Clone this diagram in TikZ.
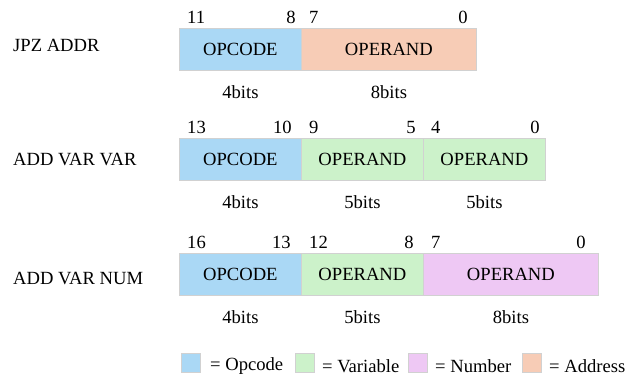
\documentclass[tikz,border=0pt]{standalone}
\usepackage{fontspec}
\setmainfont{Liberation Serif}
\definecolor{opc}{RGB}{170,216,245}
\definecolor{var}{RGB}{204,242,202}
\definecolor{num}{RGB}{238,200,244}
\definecolor{adr}{RGB}{247,204,182}
\begin{document}
\begin{tikzpicture}[x=1pt,y=-1pt,
  font=\fontsize{18.6}{22}\selectfont,
  field/.style={draw=black!18, line width=0.8pt, minimum height=42pt, inner sep=0pt, anchor=north west},
  bitl/.style={inner sep=0pt},
  lbl/.style={anchor=west, inner sep=0pt},
  sw/.style={draw=black!18, line width=0.8pt, minimum width=19pt, minimum height=19pt, inner sep=0pt}
]
\useasboundingbox[fill=white] (0,0) rectangle (640,389);

% Row 1
\node[lbl] (r1) at (13,45) {JPZ ADDR};
\node[field, fill=opc, minimum width=122pt] (a1) at (179,28) {OPCODE};
\node[field, fill=adr, minimum width=175pt] (a2) at (301,28) {OPERAND};
\node[bitl, anchor=base west] (a1l) at ([shift={(8pt,5pt)}]a1.north west) {11};
\node[bitl, anchor=base east] (a1r) at ([shift={(-6pt,5pt)}]a1.north east) {8};
\node[bitl, anchor=base west] (a2l) at ([shift={(8pt,5pt)}]a2.north west) {7};
\node[bitl, anchor=base east] (a2r) at ([shift={(-9pt,5pt)}]a2.north east) {0};
\node (a1b) at ([yshift=-21pt]a1.south) {4bits};
\node (a2b) at ([yshift=-21pt]a2.south) {8bits};

% Row 2
\node[lbl] (r2) at (13,159) {ADD VAR VAR};
\node[field, fill=opc, minimum width=122pt] (b1) at (179,138) {OPCODE};
\node[field, fill=var, minimum width=122pt] (b2) at (301,138) {OPERAND};
\node[field, fill=var, minimum width=122pt] (b3) at (423,138) {OPERAND};
\node[bitl, anchor=base west] (b1l) at ([shift={(8pt,5pt)}]b1.north west) {13};
\node[bitl, anchor=base east] (b1r) at ([shift={(-10pt,5pt)}]b1.north east) {10};
\node[bitl, anchor=base west] (b2l) at ([shift={(8pt,5pt)}]b2.north west) {9};
\node[bitl, anchor=base east] (b2r) at ([shift={(-8pt,5pt)}]b2.north east) {5};
\node[bitl, anchor=base west] (b3l) at ([shift={(8pt,5pt)}]b3.north west) {4};
\node[bitl, anchor=base east] (b3r) at ([shift={(-6pt,5pt)}]b3.north east) {0};
\node (b1b) at ([yshift=-21pt]b1.south) {4bits};
\node (b2b) at ([yshift=-21pt]b2.south) {5bits};
\node (b3b) at ([yshift=-21pt]b3.south) {5bits};

% Row 3
\node[lbl] (r3) at (13,278) {ADD VAR NUM};
\node[field, fill=opc, minimum width=122pt] (c1) at (179,253) {OPCODE};
\node[field, fill=var, minimum width=122pt] (c2) at (301,253) {OPERAND};
\node[field, fill=num, minimum width=175pt] (c3) at (423,253) {OPERAND};
\node[bitl, anchor=base west] (c1l) at ([shift={(8pt,5pt)}]c1.north west) {16};
\node[bitl, anchor=base east] (c1r) at ([shift={(-11pt,5pt)}]c1.north east) {13};
\node[bitl, anchor=base west] (c2l) at ([shift={(8pt,5pt)}]c2.north west) {12};
\node[bitl, anchor=base east] (c2r) at ([shift={(-10pt,5pt)}]c2.north east) {8};
\node[bitl, anchor=base west] (c3l) at ([shift={(8pt,5pt)}]c3.north west) {7};
\node[bitl, anchor=base east] (c3r) at ([shift={(-13pt,5pt)}]c3.north east) {0};
\node (c1b) at ([yshift=-21pt]c1.south) {4bits};
\node (c2b) at ([yshift=-21pt]c2.south) {5bits};
\node (c3b) at ([yshift=-21pt]c3.south) {8bits};

% Legend
\node[sw, fill=opc] (k1) at (191,363) {};
\node[lbl] (k1t) at (210,366) {= Opcode};
\node[sw, fill=var] (k2) at (304.5,363) {};
\node[lbl] (k2t) at (322,366) {= Variable};
\node[sw, fill=num] (k3) at (418,363) {};
\node[lbl] (k3t) at (435,366) {= Number};
\node[sw, fill=adr] (k4) at (532,363) {};
\node[lbl] (k4t) at (549,366) {= Address};
\end{tikzpicture}
\end{document}
